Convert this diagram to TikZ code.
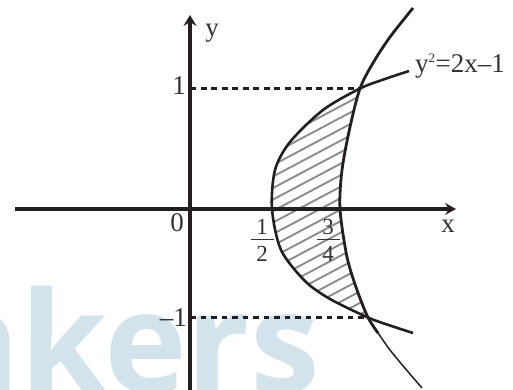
\documentclass[tikz,border=0pt]{standalone}
\usepackage{fontspec}
\setmainfont{Liberation Serif}
\newfontfamily\wmfont{Open Sans}
\usetikzlibrary{arrows.meta}
\definecolor{ink}{HTML}{231F20}
\definecolor{txt}{HTML}{333333}
\definecolor{wm}{RGB}{211,227,235}
\definecolor{hatchc}{RGB}{140,140,140}
\tikzset{
  axis/.style={draw=ink, line width=4.5pt},
  yaxis/.style={draw=ink, line width=3.5pt},
  curve/.style={draw=ink, line width=2.6pt},
  thincurve/.style={draw=ink, line width=1.5pt},
  guide/.style={draw=ink, line width=2.6pt, dash pattern=on 6pt off 4.5pt},
  hatchline/.style={draw=hatchc, line width=1.9pt},
  lbl/.style={text=txt, inner sep=0pt, font=\fontsize{27}{28}\selectfont},
  frc/.style={text=txt, inner sep=0pt, font=\fontsize{23}{24}\selectfont},
}
\begin{document}
\begin{tikzpicture}[x=1pt,y=-1pt]
\useasboundingbox (0,0) rectangle (513,390);
% watermark
\node[anchor=base west, inner sep=0pt, text=wm, font=\wmfont\bfseries\fontsize{140}{140}\selectfont] (wmark) at (-72,392) {nkers};
% key points
\coordinate (O) at (190,209);
\coordinate (A) at (360,88.5);
\coordinate (B) at (368,317.5);
% hatching
\begin{scope}
\clip plot[smooth] coordinates {(360,88.5) (323,110) (290,142) (275,170) (272,209) (281,250) (305,281) (330,299) (368,317.5)}
  -- plot[smooth] coordinates {(368,317.5) (357,290) (347,257) (340,209) (342,170) (350,127) (360,88.5)} -- cycle;
\foreach \k in {0,...,32}{
  \draw[hatchline] (240,{62.2+\k*11.5+5.3}) -- ++(220,-116.6);
}
\end{scope}
% guides
\draw[guide] (O |- A) -- (A);
\draw[guide, line width=2.1pt, dash pattern=on 5.5pt off 5pt] (O |- B) -- (B);
% axes
\coordinate (xl) at (15,209);
\coordinate (xr) at (456,209);
\coordinate (yb) at (190,392);
\coordinate (yt) at (190,15);
\draw[axis, -{Stealth[length=11pt,width=12pt,inset=4pt]}] (xl) -- (xr);
\draw[yaxis, -{Stealth[length=11pt,width=13pt,inset=4pt]}] (yb) -- (yt);
% curves
\draw[curve] plot[smooth] coordinates {(409,71) (385,79) (360,88.5) (323,110) (290,142) (275,170) (272,209) (281,250) (305,281) (330,299) (368,317.5) (390,325.5) (413,333)};
\draw[thincurve] plot[smooth] coordinates {(368,317.5) (390,350) (422,388)};
\draw[curve, line width=2.8pt] plot[smooth] coordinates {(413,8) (390,37) (373,63) (360,88.5) (350,127) (342,170) (340,209) (347,257) (357,290) (368,317.5) (378,333)};
% labels
\node[lbl] (ly) at (212,33) {y};
\node[lbl] (lx) at (448,226) {x};
\node[lbl] (l0) at (177,223) {0};
\node[lbl] (l1) at (179,86) {1};
\node[lbl, anchor=east] (lm1) at (187,318) {–1};
\node[lbl, anchor=west] (eq) at (415,66) {y\textsuperscript{\fontsize{13}{13}\selectfont 2}=2x–1};
\node[frc] (n1) at (262,227) {1};
\node[frc] (d1) at (262,254) {2};
\draw[txt, line width=1pt] (251,239.5) -- (274,239.5);
\node[frc] (n3) at (328,227) {3};
\node[frc] (d3) at (328,254) {4};
\draw[txt, line width=1pt] (317,239.5) -- (340,239.5);
\end{tikzpicture}
\end{document}
